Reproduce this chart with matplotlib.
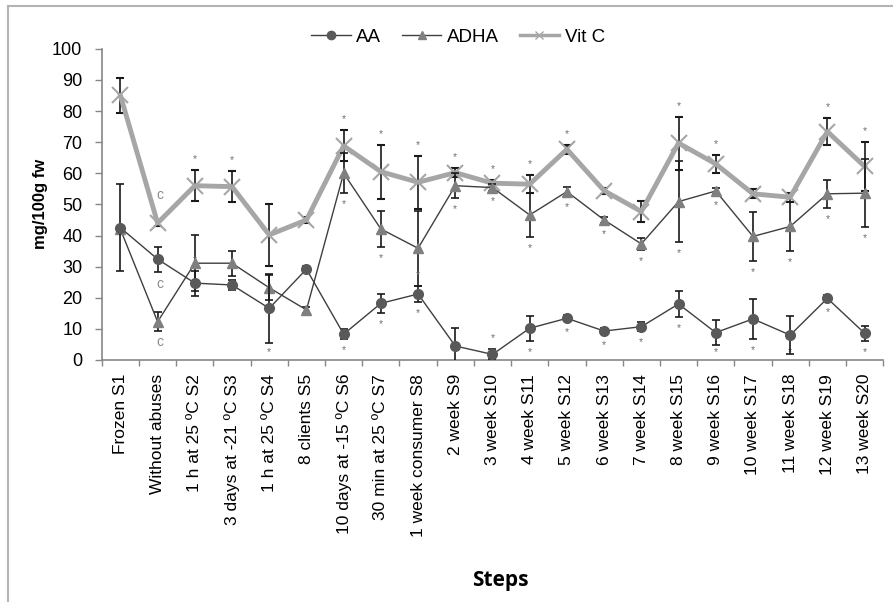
import numpy as np
import matplotlib
matplotlib.use('Agg')
import matplotlib.pyplot as plt
from matplotlib.lines import Line2D

plt.rcParams['font.family'] = ['Liberation Sans', 'DejaVu Sans']

STEPS = [
    'Frozen S1', 'Without abuses', '1 h at 25 \u00baC S2', '3 days at -21 \u00baC S3',
    '1 h at 25 \u00baC S4', '8 clients S5', '10 days at -15 \u00baC S6',
    '30 min at 25 \u00baC S7', '1 week consumer S8', '2 week S9', '3 week S10',
    '4 week S11', '5 week S12', '6 week S13', '7 week S14', '8 week S15',
    '9 week S16', '10 week S17', '11 week S18', '12 week S19', '13 week S20',
]

aa = [42.5, 32.4, 24.7, 24.1, 16.6, 29.2, 8.3, 18.2, 21.2, 4.5, 1.8,
      10.2, 13.4, 9.3, 10.7, 18.0, 8.8, 13.2, 8.0, 19.8, 8.6]
aa_err = [14.0, 4.0, 4.0, 1.5, 11.0, 1.0, 1.5, 3.0, 2.6, 5.7, 1.6,
          4.0, 1.0, 1.0, 1.5, 4.3, 4.0, 6.5, 6.0, 1.0, 2.4]
adha = [42.0, 12.3, 31.1, 31.1, 23.2, 16.1, 60.0, 42.1, 35.9, 56.0, 55.4,
        46.6, 54.1, 45.0, 37.3, 50.9, 54.3, 39.7, 42.9, 53.4, 53.6]
adha_err = [1.0, 3.0, 9.0, 4.0, 4.0, 1.0, 6.5, 5.7, 12.0, 4.0, 1.0,
            7.0, 1.5, 1.0, 2.0, 13.0, 1.0, 8.0, 8.0, 4.5, 11.0]
vitc = [85.0, 44.0, 56.0, 55.7, 40.2, 45.0, 68.8, 60.5, 57.1, 60.2, 56.8,
        56.5, 67.7, 54.4, 47.7, 69.7, 63.0, 53.4, 52.3, 73.4, 62.2]
vitc_err = [5.5, 1.0, 5.0, 5.0, 10.0, 1.0, 5.0, 8.7, 8.5, 1.5, 1.0,
            3.0, 1.5, 1.0, 3.5, 8.5, 3.0, 1.5, 1.5, 4.4, 8.0]

# significance marks: 1 above, -1 below, 2 above and below, 0 none
aa_sig = [0, 0, 1, 1, -1, 0, -1, -1, 2, -1, 1, -1, -1, -1, -1, -1, -1, -1, -1, -1, -1]
adha_sig = [0, 0, 0, 0, 0, 0, -1, -1, 0, -1, -1, -1, -1, -1, -1, -1, -1, -1, -1, -1, -1]
vitc_sig = [0, 0, 1, 1, 0, 0, 1, 1, 1, 1, 1, 1, 1, 0, 0, 1, 1, 0, 0, 1, 1]

x = np.arange(len(STEPS))

fig = plt.figure(figsize=(8.93, 6.02), dpi=100)
ax = fig.add_axes([0.114, 0.402, 0.875, 0.517])

err_kw = dict(ecolor='#1a1a1a', elinewidth=1.2, capsize=3, capthick=1.2)
ax.errorbar(x, vitc, yerr=vitc_err, color='#a6a6a6', lw=3.5, marker='x',
            ms=11, mew=1.5, mec='#a6a6a6', zorder=2, **err_kw)
ax.errorbar(x, adha, yerr=adha_err, color='#3f3f3f', lw=1, marker='^',
            ms=7, mfc='#7f7f7f', mec='#7f7f7f', zorder=3, **err_kw)
ax.errorbar(x, aa, yerr=aa_err, color='#3f3f3f', lw=1, marker='o',
            ms=7, mfc='#595959', mec='#595959', zorder=4, **err_kw)

# asterisks
star_kw = dict(ha='center', va='center', fontsize=7.5, color='#6f6f6f')
for vals, errs, sig in [(aa, aa_err, aa_sig), (adha, adha_err, adha_sig),
                        (vitc, vitc_err, vitc_sig)]:
    for i in range(len(x)):
        s = sig[i]
        if s in (1, 2):
            ax.text(x[i], vals[i] + errs[i] + 3.5, '*', **star_kw)
        if s in (-1, 2):
            ax.text(x[i], max(vals[i] - errs[i] - 3.5, 2.5), '*', **star_kw)

# "c" letters for the step without abuses
c_kw = dict(ha='center', va='center', fontsize=10, color='#8c8c8c')
ax.text(x[1] + 0.05, vitc[1] + 9, 'c', **c_kw)
ax.text(x[1] + 0.05, aa[1] - 8, 'c', **c_kw)
ax.text(x[1] + 0.05, adha[1] - 6.5, 'c', **c_kw)

ax.set_xlim(-0.5, len(STEPS) - 0.5)
ax.set_ylim(0, 100)
ax.set_yticks(np.arange(0, 101, 10))
ax.tick_params(axis='y', labelsize=13, length=5, color='#868686', width=1, pad=9)

ax.set_xticks(np.arange(-0.5, len(STEPS), 1))
ax.set_xticklabels([])
ax.tick_params(axis='x', which='major', length=4, color='#868686', width=1)
ax.set_xticks(x, minor=True)
ax.set_xticklabels(STEPS, minor=True, rotation=90, fontsize=12.5)
ax.tick_params(axis='x', which='minor', length=0, pad=10)

for side in ['top', 'right']:
    ax.spines[side].set_visible(False)
for side in ['left', 'bottom']:
    ax.spines[side].set_color('#868686')
    ax.spines[side].set_linewidth(1.2)

ax.set_ylabel('mg/100g fw', fontsize=12, fontweight='bold', labelpad=3)
fig.text(0.56, 0.036, 'Steps', fontsize=15, fontweight='bold',
         family=['Open Sans', 'DejaVu Sans'], ha='center', va='center')

handles = [
    Line2D([], [], color='#3f3f3f', lw=1, marker='o', ms=6, mfc='#595959', mec='#595959'),
    Line2D([], [], color='#3f3f3f', lw=1, marker='^', ms=6, mfc='#7f7f7f', mec='#7f7f7f'),
    Line2D([], [], color='#a6a6a6', lw=2.5, marker='x', ms=6, mec='#a6a6a6'),
]
fig.legend(handles, ['AA', 'ADHA', 'Vit C'], loc='center', bbox_to_anchor=(0.513, 0.938),
           ncol=3, frameon=False, fontsize=13.5, handlelength=2.1, columnspacing=1.1,
           handletextpad=0.3)

# outer frame
fig.add_artist(Line2D([0.009, 0.009], [0.0, 0.990], color='#b4b4b4', lw=1.5,
                      transform=fig.transFigure))
fig.add_artist(Line2D([0.009, 1.0], [0.990, 0.990], color='#b4b4b4', lw=1.5,
                      transform=fig.transFigure))

fig.savefig('out.png', dpi=100)
